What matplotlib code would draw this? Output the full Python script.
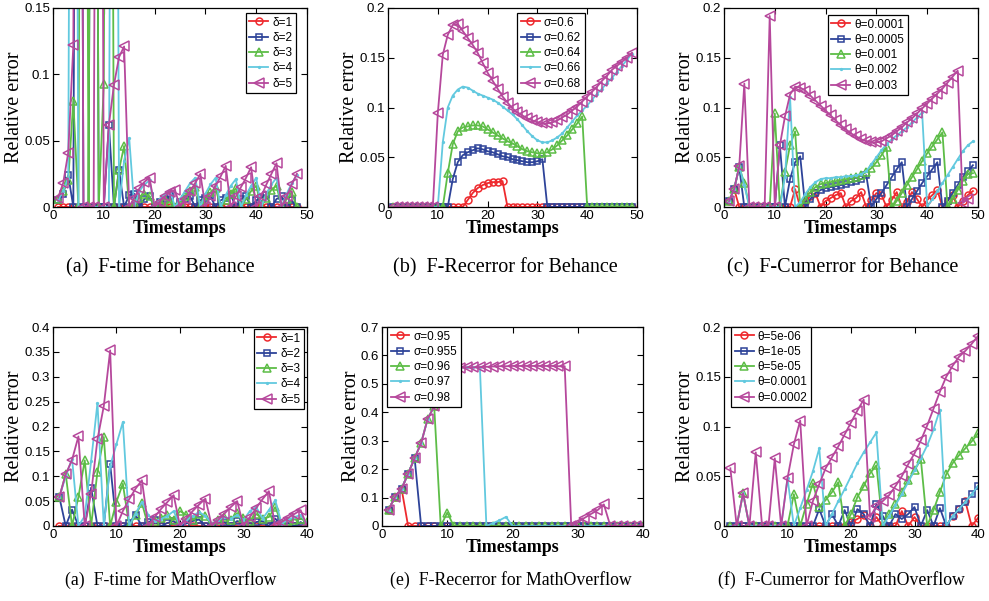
import matplotlib
matplotlib.use("Agg")
import matplotlib.pyplot as plt
import numpy as np

plt.rcParams['font.family'] = ['Liberation Sans', 'DejaVu Sans']

# ---------------- data ----------------
# (a) F-time for Behance, timestamps 1..48
p1_labels = ["δ=1", "δ=2", "δ=3", "δ=4", "δ=5"]
p1_red = [0, 0, 0, 0, 0, 0, 0, 0, 0, 0,
          0, 0, 0, 0, 0, 0, 0, 0, 0, 0,
          0, 0, 0, 0, 0, 0, 0, 0, 0, 0,
          0, 0, 0, 0, 0, 0, 0, 0, 0, 0,
          0, 0, 0, 0, 0, 0, 0, 0]
p1_blue = [0.005, 0.010, 0.024, 0, 1.0, 0, 0, 1.0, 0, 0,
           0.062, 0, 0.028, 0, 0.009, 0.010, 0, 0.006, 0.008, 0,
           0.004, 0.006, 0.008, 0, 0.004, 0.006, 0.008, 0, 0.005, 0.007,
           0.008, 0, 0.005, 0.007, 0.009, 0, 0.006, 0.008, 0, 0.005,
           0.007, 0.009, 0, 0.006, 0.008, 0, 0.005, 0]
p1_green = [0.006, 0.012, 0.020, 0.080, 0, 1.0, 0, 1.0, 0, 0.093,
            1.0, 0, 0.028, 0.046, 0, 0.004, 0.007, 0.010, 0.008, 0,
            0.004, 0.006, 0.004, 0, 0.004, 0.008, 0.012, 0.015, 0, 0.006,
            0.011, 0.014, 0, 0.005, 0.010, 0.014, 0, 0.006, 0.012, 0.016,
            0, 0.007, 0.013, 0.016, 0, 0.006, 0.011, 0]
p1_cyan = [0.005, 0.012, 0.022, 1.0, 0, 0, 0, 0, 0, 0,
           0, 1.0, 0, 0.035, 0.052, 0, 0.012, 0.017, 0.020, 0,
           0.006, 0.010, 0.013, 0, 0.006, 0.012, 0.018, 0.022, 0, 0.010,
           0.017, 0.022, 0, 0.009, 0.016, 0.021, 0, 0.009, 0.016, 0.022,
           0, 0.010, 0.017, 0.022, 0, 0.010, 0.018, 0.024]
p1_magenta = [0.007, 0.018, 0.041, 0.122, 1.0, 0, 0, 0, 1.0, 0,
              0.062, 0.092, 0.113, 0.121, 0, 0.007, 0.014, 0.019, 0.022, 0,
              0.004, 0.008, 0.011, 0.013, 0, 0.006, 0.012, 0.018, 0.025, 0,
              0.008, 0.016, 0.023, 0.031, 0, 0.008, 0.015, 0.022, 0.030, 0,
              0.008, 0.017, 0.025, 0.033, 0, 0.008, 0.017, 0.025]

# (b) F-Recerror for Behance, timestamps 1..49
p2_labels = ["σ=0.6", "σ=0.62", "σ=0.64", "σ=0.66", "σ=0.68"]
p2_red = [0, 0, 0, 0, 0, 0, 0, 0, 0, 0,
          0, 0, 0, 0, 0, 0.007, 0.014, 0.019, 0.022, 0.024,
          0.025, 0.025, 0.026, 0, 0, 0, 0, 0, 0, 0,
          0, 0, 0, 0, 0, 0, 0, 0, 0, 0,
          0, 0, 0, 0, 0, 0, 0, 0, 0]
p2_blue = [0, 0, 0, 0, 0, 0, 0, 0, 0, 0,
           0, 0, 0.028, 0.045, 0.052, 0.055, 0.057, 0.059, 0.058, 0.056,
           0.055, 0.053, 0.051, 0.050, 0.048, 0.047, 0.046, 0.045, 0.045, 0.046,
           0.048, 0, 0, 0, 0, 0, 0, 0, 0, 0,
           0, 0, 0, 0, 0, 0, 0, 0, 0]
p2_green = [0, 0, 0, 0, 0, 0, 0, 0, 0, 0,
            0, 0.034, 0.063, 0.076, 0.080, 0.081, 0.082, 0.082, 0.081, 0.078,
            0.075, 0.072, 0.069, 0.066, 0.064, 0.061, 0.058, 0.056, 0.055, 0.054,
            0.054, 0.055, 0.058, 0.062, 0.067, 0.072, 0.078, 0.084, 0.091, 0,
            0, 0, 0, 0, 0, 0, 0, 0, 0]
p2_cyan = [0, 0, 0, 0, 0, 0, 0, 0, 0, 0,
           0.065, 0.100, 0.112, 0.118, 0.121, 0.120, 0.117, 0.114, 0.112, 0.110,
           0.108, 0.105, 0.101, 0.097, 0.093, 0.088, 0.082, 0.076, 0.071, 0.067,
           0.065, 0.065, 0.067, 0.070, 0.074, 0.080, 0.086, 0.092, 0.097, 0.102,
           0.108, 0.114, 0.119, 0.125, 0.130, 0.136, 0.142, 0.148, 0.154]
p2_magenta = [0, 0, 0, 0, 0, 0, 0, 0, 0, 0.094,
              0.153, 0.173, 0.183, 0.184, 0.177, 0.170, 0.163, 0.155, 0.145, 0.135,
              0.127, 0.119, 0.111, 0.105, 0.099, 0.095, 0.092, 0.089, 0.087, 0.085,
              0.084, 0.084, 0.085, 0.087, 0.090, 0.093, 0.097, 0.101, 0.106, 0.111,
              0.116, 0.121, 0.127, 0.132, 0.138, 0.142, 0.146, 0.150, 0.155]

# (c) F-Cumerror for Behance
p3_labels = ["θ=0.0001", "θ=0.0005", "θ=0.001", "θ=0.002", "θ=0.003"]
p3_red = [0.006, 0.018, 0, 0, 0, 0, 0, 0, 0, 0,
          0, 0, 0, 0.018, 0, 0.005, 0.011, 0.014, 0, 0.006,
          0.009, 0.012, 0.014, 0, 0.006, 0.009, 0.015, 0, 0.007, 0.014,
          0.012, 0, 0.007, 0.015, 0, 0.005, 0.015, 0.008, 0, 0.007,
          0.012, 0.017, 0, 0.006, 0.012, 0, 0.006, 0.012, 0.016]
p3_blue = [0.006, 0.018, 0.040, 0, 0, 0, 0, 0, 0, 0,
           0.062, 0, 0.028, 0.045, 0.051, 0, 0.008, 0.014, 0.017, 0.019,
           0.020, 0.021, 0.022, 0.023, 0.025, 0.026, 0.028, 0.032, 0, 0.008,
           0.014, 0.022, 0.030, 0.038, 0.045, 0, 0.008, 0.016, 0.024, 0.031,
           0.038, 0.045, 0, 0.006, 0.014, 0.022, 0.030, 0.036, 0.042]
p3_green = [0.006, 0.018, 0.040, 0.024, 0, 0, 0, 0, 0, 0.094,
            0, 0.035, 0.062, 0.076, 0, 0.008, 0.015, 0.020, 0.023, 0.024,
            0.025, 0.026, 0.027, 0.028, 0.029, 0.030, 0.032, 0.035, 0.039, 0.045,
            0.052, 0.060, 0, 0.006, 0.014, 0.022, 0.030, 0.038, 0.046, 0.054,
            0.061, 0.068, 0.075, 0, 0.008, 0.017, 0.026, 0.033, 0.034]
p3_cyan = [0.006, 0.018, 0.041, 0.022, 0, 0, 0, 0, 0, 0,
           0, 0.030, 0.111, 0, 0.005, 0.013, 0.020, 0.025, 0.028, 0.029,
           0.029, 0.030, 0.030, 0.031, 0.031, 0.032, 0.033, 0.036, 0.043, 0.050,
           0.057, 0.063, 0.068, 0.072, 0.076, 0.080, 0.085, 0.090, 0.095, 0,
           0.008, 0.016, 0.024, 0.032, 0.040, 0.048, 0.056, 0.062, 0.066]
p3_magenta = [0.006, 0.018, 0.041, 0.124, 0, 0, 0, 0, 0.192, 0,
              0.062, 0.091, 0.113, 0.121, 0.120, 0.117, 0.112, 0.107, 0.102, 0.097,
              0.092, 0.087, 0.082, 0.078, 0.074, 0.071, 0.068, 0.066, 0.065, 0.065,
              0.066, 0.069, 0.072, 0.076, 0.080, 0.085, 0.089, 0.094, 0.099, 0.104,
              0.109, 0.114, 0.119, 0.125, 0.131, 0.137, 0.004, 0.008]

# (a) F-time for MathOverflow, timestamps 1..40
p4_labels = ["δ=1", "δ=2", "δ=3", "δ=4", "δ=5"]
p4_red = [0, 0, 0, 0, 0, 0, 0, 0, 0, 0,
          0, 0, 0, 0, 0, 0, 0, 0, 0, 0,
          0, 0, 0, 0, 0, 0, 0, 0, 0, 0,
          0, 0, 0, 0, 0, 0, 0, 0, 0, 0]
p4_blue = [0.058, 0, 0.033, 0, 0, 0.077, 0, 0, 0.125, 0,
           0, 0.006, 0.022, 0, 0.008, 0.012, 0, 0.006, 0.010, 0,
           0.005, 0.010, 0.013, 0, 0, 0.005, 0.008, 0, 0.010, 0.006,
           0, 0.008, 0.010, 0, 0.015, 0, 0.006, 0, 0.008, 0]
p4_green = [0.058, 0.105, 0, 0.058, 0.132, 0, 0.109, 0.179, 0, 0.049,
            0.085, 0, 0.022, 0.046, 0, 0.010, 0.017, 0.022, 0.012, 0.030,
            0.022, 0.012, 0.025, 0.020, 0, 0.012, 0.018, 0.012, 0.026, 0.016,
            0.010, 0.024, 0.015, 0.018, 0.038, 0.005, 0.010, 0.013, 0.015, 0.008]
p4_cyan = [0.058, 0.100, 0.135, 0, 0.020, 0.130, 0.247, 0, 0.120, 0.165,
           0.209, 0, 0.025, 0.048, 0.022, 0.010, 0.014, 0.020, 0.030, 0,
           0.012, 0.020, 0.028, 0.020, 0.005, 0.012, 0.018, 0.015, 0.022, 0.012,
           0.030, 0.038, 0.015, 0.032, 0.052, 0.005, 0.012, 0.018, 0.022, 0.005]
p4_magenta = [0.058, 0.104, 0.133, 0.180, 0, 0.065, 0.174, 0.241, 0.353, 0,
              0.030, 0.054, 0.075, 0.092, 0, 0.018, 0.034, 0.048, 0.062, 0,
              0.015, 0.030, 0.043, 0.055, 0, 0.012, 0.025, 0.038, 0.050, 0,
              0.018, 0.036, 0.054, 0.070, 0, 0.008, 0.016, 0.024, 0.032, 0]

# (e) F-Recerror for MathOverflow
p5_labels = ["σ=0.95", "σ=0.955", "σ=0.96", "σ=0.97", "σ=0.98"]
p5_red = [0.057, 0.102, 0.131, 0, 0, 0, 0, 0, 0, 0,
          0, 0, 0, 0, 0, 0, 0, 0, 0, 0,
          0, 0, 0, 0, 0, 0, 0, 0, 0, 0,
          0, 0, 0, 0, 0, 0, 0, 0, 0, 0]
p5_blue = [0.057, 0.102, 0.131, 0.184, 0.239, 0, 0, 0, 0, 0,
           0, 0, 0, 0, 0, 0, 0, 0, 0, 0,
           0, 0, 0, 0, 0, 0, 0, 0, 0, 0,
           0, 0, 0, 0, 0, 0, 0, 0, 0, 0]
p5_green = [0.057, 0.102, 0.131, 0.184, 0.239, 0.292, 0.377, 0.421, 0, 0.047,
            0, 0, 0, 0, 0, 0, 0, 0, 0, 0,
            0, 0, 0, 0, 0, 0, 0, 0, 0, 0,
            0, 0, 0, 0, 0, 0, 0, 0, 0, 0]
p5_cyan = [0.057, 0.102, 0.131, 0.184, 0.239, 0.292, 0.377, 0.421, 0.550, 0.555,
           0.557, 0.557, 0.558, 0.558, 0.559, 0, 0.010, 0.020, 0.032, 0,
           0, 0, 0, 0, 0, 0, 0, 0, 0, 0,
           0, 0, 0, 0, 0, 0, 0, 0, 0, 0]
p5_magenta = [0.057, 0.102, 0.131, 0.184, 0.239, 0.292, 0.377, 0.421, 0.550, 0.555,
              0.557, 0.557, 0.558, 0.558, 0.559, 0.560, 0.561, 0.562, 0.562, 0.563,
              0.563, 0.563, 0.563, 0.563, 0.563, 0.563, 0.562, 0.562, 0, 0.012,
              0.028, 0.042, 0.055, 0.076, 0, 0, 0, 0, 0, 0]

# (f) F-Cumerror for MathOverflow
p6_labels = ["θ=5e-06", "θ=1e-05", "θ=5e-05", "θ=0.0001", "θ=0.0002"]
p6_red = [0, 0, 0, 0, 0, 0, 0, 0, 0, 0,
          0, 0, 0, 0, 0, 0, 0, 0, 0, 0.004,
          0.007, 0.011, 0, 0.009, 0, 0, 0, 0.015, 0, 0.009,
          0, 0, 0, 0, 0, 0.010, 0.017, 0.025, 0, 0.008]
p6_blue = [0, 0, 0, 0, 0, 0, 0, 0, 0, 0,
           0, 0, 0, 0, 0.017, 0, 0.012, 0, 0.016, 0,
           0.017, 0.012, 0, 0.022, 0.010, 0, 0.012, 0.007, 0.012, 0.019,
           0, 0.016, 0, 0.018, 0, 0.010, 0.017, 0.024, 0.032, 0.040]
p6_green = [0, 0, 0.033, 0, 0, 0, 0, 0, 0, 0,
            0.032, 0, 0.022, 0.043, 0.019, 0.026, 0.034, 0.044, 0, 0.012,
            0.029, 0.040, 0.053, 0.061, 0, 0.012, 0.022, 0.034, 0.046, 0.056,
            0.067, 0, 0.016, 0.034, 0.052, 0.063, 0.071, 0.078, 0.085, 0.093]
p6_cyan = [0, 0, 0.033, 0, 0, 0, 0, 0, 0, 0.048,
           0, 0.018, 0.036, 0.055, 0.078, 0, 0.012, 0.025, 0.037, 0.050,
           0.063, 0.074, 0.084, 0.094, 0, 0.010, 0.021, 0.032, 0.044, 0.056,
           0.068, 0.081, 0.097, 0.117, 0, 0.010, 0.017, 0.024, 0.032, 0.040]
p6_magenta = [0.058, 0, 0.033, 0, 0.074, 0, 0, 0.068, 0, 0.048,
              0.082, 0.106, 0, 0.025, 0.042, 0.058, 0.069, 0.080, 0.092, 0.104,
              0.116, 0.127, 0.009, 0.020, 0.025, 0.031, 0.040, 0.050, 0.062, 0.073,
              0.086, 0.101, 0.118, 0.135, 0.150, 0.161, 0.170, 0.176, 0.183, 0.191]

captions = ["(a)  F-time for Behance", "(b)  F-Recerror for Behance",
            "(c)  F-Cumerror for Behance", "(a)  F-time for MathOverflow",
            "(e)  F-Recerror for MathOverflow", "(f)  F-Cumerror for MathOverflow"]

# ---------------- styling ----------------
colors = ['#ee2a2e', '#2d4399', '#5dbd47', '#62c9df', '#b6489c']
markers = ['o', 's', '^', '.', '<']
msizes = [5, 4.5, 6, 2.5, 6.5]

W, H = 989.0, 601.0


def draw_panel(ax_px, series, labels, xmax, ymax, ystep, leg_loc, leg_anchor):
    l, b, w, h = ax_px
    ax = fig.add_axes([l / W, (H - b - h) / H, w / W, h / H])
    for vals, lab, c, m, ms in zip(series, labels, colors, markers, msizes):
        x = np.arange(1, len(vals) + 1)
        ax.plot(x, vals, color=c, marker=m, markersize=ms, markerfacecolor='none',
                markeredgewidth=1.1, lw=1.3, label=lab)
    ax.set_xlim(0, xmax)
    ax.set_ylim(0, ymax)
    ax.set_xticks(np.arange(0, xmax + 1, 10))
    yt = np.arange(0, ymax + ystep / 2, ystep)
    ax.set_yticks(yt)
    ax.set_yticklabels(["%g" % round(v, 3) for v in yt])
    ax.tick_params(direction='in', top=True, right=True, length=4, width=0.8,
                   labelsize=9.5, pad=2)
    for s in ax.spines.values():
        s.set_linewidth(0.9)
    ax.set_xlabel("Timestamps", family='Liberation Serif', fontweight='bold',
                  fontsize=13, labelpad=-1)
    ax.set_ylabel("Relative error", family='Liberation Serif', fontsize=14.5,
                  labelpad=0)
    leg = ax.legend(loc=leg_loc, bbox_to_anchor=leg_anchor, fontsize=8.5,
                    fancybox=False, framealpha=1, edgecolor='black',
                    handlelength=1.6, handletextpad=0.35, borderpad=0.3,
                    labelspacing=0.28, borderaxespad=0)
    leg.get_frame().set_linewidth(0.9)
    return ax


fig = plt.figure(figsize=(9.89, 6.01), dpi=100)

draw_panel((53, 8, 254, 199), [p1_red, p1_blue, p1_green, p1_cyan, p1_magenta],
           p1_labels, 50, 0.15, 0.05, 'upper right', (0.957, 0.975))
draw_panel((388, 8, 249, 199), [p2_red, p2_blue, p2_green, p2_cyan, p2_magenta],
           p2_labels, 50, 0.2, 0.05, 'upper right', (0.79, 0.975))
draw_panel((724, 8, 254, 199), [p3_red, p3_blue, p3_green, p3_cyan, p3_magenta],
           p3_labels, 50, 0.2, 0.05, 'upper right', (0.724, 0.965))
draw_panel((53, 327, 254, 199), [p4_red, p4_blue, p4_green, p4_cyan, p4_magenta],
           p4_labels, 40, 0.4, 0.05, 'upper right', (0.988, 0.99))
draw_panel((382, 327, 261, 199), [p5_red, p5_blue, p5_green, p5_cyan, p5_magenta],
           p5_labels, 40, 0.7, 0.1, 'upper left', (0.019, 1.0))
draw_panel((724, 327, 254, 199), [p6_red, p6_blue, p6_green, p6_cyan, p6_magenta],
           p6_labels, 40, 0.2, 0.05, 'upper left', (0.028, 1.0))

cap_pos = [(160, 268), (505, 268), (843, 268), (171, 580), (511, 580), (841, 580)]
cap_size = [14.5, 14.5, 14.5, 12.8, 12.8, 12.8]
for (cx, cy), txt, fs in zip(cap_pos, captions, cap_size):
    fig.text(cx / W, 1 - cy / H, txt, ha='center', va='center',
             family='Liberation Serif', fontsize=fs)

fig.savefig("out.png", dpi=100)
